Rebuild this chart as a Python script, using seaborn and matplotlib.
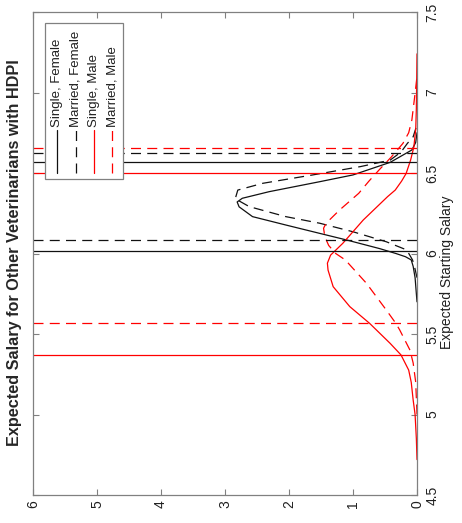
import matplotlib
matplotlib.use('Agg')
import matplotlib.pyplot as plt
import seaborn as sns
from matplotlib.patches import Rectangle

# ---------------- data ----------------
title = 'Expected Salary for Other Veterinarians with HDPI'
xlabel = 'Expected Starting Salary'
series_names = ['Single, Female', 'Married, Female', 'Single, Male', 'Married, Male']

sf_salary = [5.70, 5.80, 5.85, 5.92, 5.96, 5.98, 6.00, 6.03, 6.084, 6.125, 6.177, 6.229, 6.29, 6.32,
             6.343, 6.384, 6.446, 6.488, 6.566, 6.643, 6.69, 6.75]
sf_density = [0.0, 0.02, 0.03, 0.06, 0.09, 0.18, 0.33, 0.58, 1.10, 1.52, 2.05, 2.57, 2.78, 2.81,
              2.73, 2.31, 1.52, 1.00, 0.42, 0.08, 0.02, 0.0]

mf_salary = [5.85, 5.92, 5.96, 6.022, 6.073, 6.135, 6.188, 6.229, 6.291, 6.34, 6.394, 6.436,
             6.488, 6.54, 6.58, 6.63, 6.684, 6.725, 6.80]
mf_density = [0.0, 0.04, 0.07, 0.16, 0.48, 1.00, 1.52, 2.05, 2.62, 2.84, 2.80, 2.41,
              1.63, 0.88, 0.42, 0.25, 0.15, 0.06, 0.0]

sm_salary = [4.72, 4.85, 5.00, 5.09, 5.20, 5.276, 5.37, 5.442, 5.566, 5.67, 5.794, 5.897, 5.94,
             5.99, 6.063, 6.208, 6.353, 6.394, 6.45, 6.497, 6.58, 6.66, 6.77, 6.90, 7.24]
sm_density = [0.0, 0.01, 0.03, 0.06, 0.09, 0.13, 0.25, 0.42, 0.74, 1.05, 1.31, 1.39, 1.40,
              1.35, 1.16, 0.84, 0.46, 0.34, 0.24, 0.17, 0.10, 0.05, 0.02, 0.01, 0.0]

mm_salary = [5.00, 5.20, 5.32, 5.40, 5.525, 5.566, 5.649, 5.815, 5.96, 6.00, 6.05, 6.104, 6.157,
             6.188, 6.27, 6.374, 6.45, 6.52, 6.60, 6.684, 6.75, 6.83, 6.995, 7.10]
mm_density = [0.0, 0.02, 0.06, 0.11, 0.27, 0.33, 0.48, 0.79, 1.12, 1.27, 1.38, 1.44, 1.46,
              1.42, 1.21, 0.91, 0.75, 0.59, 0.40, 0.22, 0.13, 0.08, 0.03, 0.0]

hdpi_lower = [6.018, 6.084, 5.370, 5.566]
hdpi_upper = [6.566, 6.626, 6.497, 6.653]

salary_ticks = [4.5, 5, 5.5, 6, 6.5, 7, 7.5]
salary_tick_labels = ['4.5', '5', '5.5', '6', '6.5', '7', '7.5']
density_ticks = [0, 1, 2, 3, 4, 5, 6]
density_tick_labels = ['0', '1', '2', '3', '4', '5', '6']

colors = ['#111111', '#111111', 'red', 'red']
styles = ['-', '--', '-', '--']

# ---------------- plot ----------------
sns.set_style('white')
plt.rcParams['font.family'] = ['Liberation Sans', 'DejaVu Sans']

W, H = 462, 523
fig = plt.figure(figsize=(W / 100, H / 100), dpi=100)
ax = fig.add_axes([33 / W, 1 - 495 / H, 384 / W, 483 / H])

curves = [(sf_density, sf_salary), (mf_density, mf_salary),
          (sm_density, sm_salary), (mm_density, mm_salary)]
dash = (8, 5)
lw = 0.9
for (d, s), c, st in zip(curves, colors, styles):
    sns.lineplot(x=d, y=s, sort=False, estimator=None, color=c, linewidth=lw, ax=ax, legend=False)
    ln = ax.lines[-1]
    if st == '--':
        ln.set_dashes(dash)

for lo, up, c, st in zip(hdpi_lower, hdpi_upper, colors, styles):
    for v in (lo, up):
        ln = ax.axhline(v, color=c, linewidth=lw)
        if st == '--':
            ln.set_dashes(dash)

ax.set_xlim(6, 0)
ax.set_ylim(4.5, 7.5)
ax.set_xticks(density_ticks)
ax.set_xticklabels(density_tick_labels, rotation=90, ha='center', va='top')
ax.set_yticks(salary_ticks)
ax.yaxis.tick_right()
ax.set_yticklabels(salary_tick_labels, rotation=90, ha='left', va='center')
ax.tick_params(axis='both', direction='in', length=4, width=0.8, color='#808080',
               top=True, bottom=True, left=True, right=True,
               labelleft=False, labelright=True, labelsize=10, labelcolor='#202020')
ax.tick_params(axis='x', pad=4)
ax.tick_params(axis='y', pad=6)
for sp in ax.spines.values():
    sp.set_color('#808080')
    sp.set_linewidth(0.9)

ax.yaxis.set_label_position('right')
ax.set_ylabel(xlabel, rotation=90, fontsize=10, color='#202020', va='center', ha='center')
ax.yaxis.set_label_coords(1 + (447 - 417) / 384, (495 - 272) / 483)

fig.text(15 / W, 1 - 253 / H, title, rotation=90, fontsize=11.7, fontweight='bold',
         ha='center', va='center')

# legend (rotated, built by hand)
bx0, bx1 = (45 - 33) / 384, (123 - 33) / 384
by0, by1 = (495 - 179) / 483, (495 - 23) / 483
ax.add_patch(Rectangle((bx0, by0), bx1 - bx0, by1 - by0, transform=ax.transAxes,
                       facecolor='white', edgecolor='#808080', linewidth=0.9, zorder=10))
entry_px = [56.7, 76.0, 94.3, 112.3]
for name, c, st, px in zip(series_names, colors, styles, entry_px):
    xf = (px - 33) / 384
    ln, = ax.plot([xf, xf], [(495 - 173) / 483, (495 - 130) / 483], transform=ax.transAxes,
                  color=c, linewidth=lw, zorder=11)
    if st == '--':
        ln.set_dashes(dash)
    ax.text(xf, (495 - 127) / 483, name, transform=ax.transAxes, rotation=90,
            ha='center', va='bottom', fontsize=9.5, color='#202020', zorder=12)

fig.savefig('out.png', dpi=100)
